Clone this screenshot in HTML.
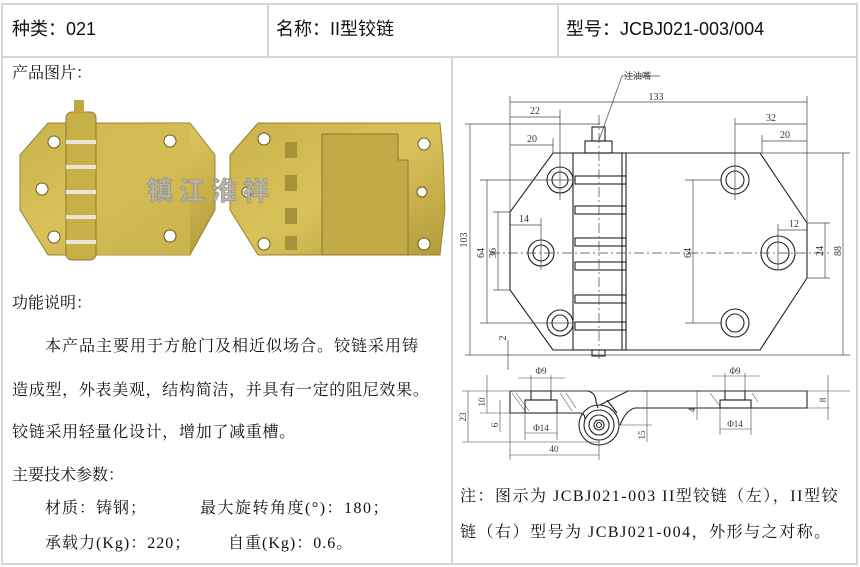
<!DOCTYPE html>
<html><head><meta charset="utf-8"><style>
body{margin:0;background:#fff;}
#c{position:relative;width:860px;height:567px;overflow:hidden;background:#fff;font-family:"Liberation Serif","Noto Serif CJK SC",serif;color:#111;}
.t{position:absolute;white-space:nowrap;line-height:1;}
.h{font-family:"Liberation Sans","Noto Sans CJK SC",sans-serif;font-size:18px;}
.p{font-size:16px;letter-spacing:0.7px;}
</style></head><body><div id="c">
<svg width="860" height="567" style="position:absolute;left:0;top:0">
<g stroke="#c8c8c8" stroke-width="1.5" fill="none">
<rect x="2" y="4" width="855" height="560"/>
<line x1="2" y1="57" x2="857" y2="57"/>
<line x1="268" y1="4" x2="268" y2="57"/>
<line x1="558" y1="4" x2="558" y2="57"/>
<line x1="452" y1="57" x2="452" y2="564"/>
</g>
<defs><linearGradient id="g" x1="0" y1="0" x2="1" y2="1"><stop offset="0" stop-color="#c9b24a"/><stop offset="0.5" stop-color="#d9c25a"/><stop offset="1" stop-color="#b39a3a"/></linearGradient></defs>
<polygon points="48,123 190,123 215,155 215,210 190,255 48,255 20,210 20,155" fill="url(#g)" stroke="#9a8430"/>
<rect x="98" y="125" width="92" height="130" fill="#d2bb52" opacity="0.7"/>
<rect x="66" y="112" width="30" height="148" rx="6" fill="#c8b048" stroke="#8e7a2c"/>
<g fill="#e8e4d8"><rect x="66" y="140" width="30" height="4"/><rect x="66" y="165" width="30" height="4"/><rect x="66" y="190" width="30" height="4"/><rect x="66" y="215" width="30" height="4"/><rect x="66" y="240" width="30" height="4"/></g>
<rect x="74" y="100" width="10" height="14" fill="#c0a640"/>
<g fill="#fff" stroke="#6b5a20"><circle cx="54" cy="142" r="6"/><circle cx="42" cy="189" r="6"/><circle cx="54" cy="237" r="6"/><circle cx="170" cy="141" r="6"/><circle cx="170" cy="236" r="6"/></g>
<polygon points="258,123 440,123 443,155 445,210 440,255 258,255 230,210 230,155" fill="url(#g)" stroke="#9a8430"/>
<path d="M322,134 H398 V160 H408 V255 H322 Z" fill="#c3aa46" stroke="#8e7a2c"/>
<g fill="#a8913a"><rect x="285" y="142" width="12" height="16"/><rect x="285" y="175" width="12" height="16"/><rect x="285" y="208" width="12" height="16"/><rect x="285" y="236" width="12" height="14"/></g>
<g fill="#fff" stroke="#6b5a20"><circle cx="264" cy="139" r="6"/><circle cx="264" cy="244" r="6"/><circle cx="424" cy="144" r="6"/><circle cx="424" cy="244" r="6"/><circle cx="247" cy="192" r="5"/><circle cx="422" cy="192" r="5"/></g>
<text x="147" y="200" font-family="Noto Sans CJK SC,sans-serif" font-weight="bold" font-size="26" fill="#b8b4a8" stroke="#888" stroke-width="0.6" letter-spacing="6">镇江淮祥</text>
<g stroke="#222" stroke-width="1.1" fill="none">
<polygon points="553,153 760,153 807,223 807,278 760,350 553,350 510,290 510,212"/>
<rect x="573" y="153" width="53" height="197"/>
<line x1="622" y1="153" x2="622" y2="350"/>
<g>
<rect x="575" y="176" width="51" height="8"/><rect x="575" y="206" width="51" height="8"/><rect x="575" y="238" width="51" height="8"/><rect x="575" y="262" width="51" height="8"/><rect x="575" y="295" width="51" height="8"/><rect x="575" y="322" width="51" height="8"/>
</g>
<rect x="585" y="141" width="27" height="12"/><rect x="592" y="127" width="13" height="14"/>
<rect x="592" y="350" width="13" height="6"/>
<circle cx="560" cy="180" r="13"/><circle cx="560" cy="180" r="8"/>
<circle cx="541" cy="253" r="13"/><circle cx="541" cy="253" r="8"/>
<circle cx="560" cy="323" r="13"/><circle cx="560" cy="323" r="8"/>
<circle cx="735" cy="180" r="14"/><circle cx="735" cy="180" r="9"/>
<circle cx="778" cy="253" r="17"/><circle cx="778" cy="253" r="11"/>
<circle cx="735" cy="323" r="14"/><circle cx="735" cy="323" r="9"/>
</g>
<g stroke="#444" stroke-width="0.7" fill="none">
<line x1="490" y1="253" x2="830" y2="253" stroke-dasharray="10,3,2,3"/>
<line x1="599" y1="115" x2="599" y2="362" stroke-dasharray="10,3,2,3"/>
<line x1="599" y1="140" x2="622" y2="76"/><line x1="622" y1="76" x2="660" y2="76"/>
<line x1="510" y1="96" x2="510" y2="212"/><line x1="807" y1="96" x2="807" y2="223"/>
<line x1="560" y1="110" x2="560" y2="200"/><line x1="553" y1="138" x2="553" y2="153"/>
<line x1="735" y1="118" x2="735" y2="200"/><line x1="762" y1="135" x2="762" y2="153"/>
<line x1="541" y1="218" x2="541" y2="270"/><line x1="778" y1="224" x2="778" y2="270"/>
<line x1="465" y1="124" x2="600" y2="124"/><line x1="465" y1="355" x2="850" y2="355"/>
<line x1="480" y1="180" x2="575" y2="180"/><line x1="480" y1="323" x2="575" y2="323"/>
<line x1="493" y1="212" x2="510" y2="212"/><line x1="493" y1="290" x2="510" y2="290"/>
<line x1="685" y1="180" x2="722" y2="180"/><line x1="685" y1="323" x2="722" y2="323"/>
<line x1="807" y1="223" x2="830" y2="223"/><line x1="807" y1="278" x2="830" y2="278"/>
<line x1="760" y1="153" x2="850" y2="153"/>
<line x1="510" y1="102" x2="807" y2="102"/><line x1="510" y1="117" x2="560" y2="117"/><line x1="510" y1="145" x2="553" y2="145"/>
<line x1="735" y1="124" x2="807" y2="124"/><line x1="762" y1="141" x2="807" y2="141"/>
<line x1="470" y1="124" x2="470" y2="355"/><line x1="487" y1="180" x2="487" y2="323"/><line x1="498" y1="212" x2="498" y2="290"/>
<line x1="510" y1="225" x2="541" y2="225"/><line x1="693" y1="180" x2="693" y2="323"/>
<line x1="778" y1="230" x2="807" y2="230"/><line x1="825" y1="223" x2="825" y2="278"/><line x1="843" y1="153" x2="843" y2="355"/>
<line x1="508" y1="340" x2="508" y2="370"/>
</g>
<g font-family="Liberation Serif,serif" font-size="10" fill="#333">
<text x="656" y="100" text-anchor="middle">133</text>
<text x="535" y="114" text-anchor="middle">22</text>
<text x="532" y="142" text-anchor="middle">20</text>
<text x="771" y="121" text-anchor="middle">32</text>
<text x="785" y="138" text-anchor="middle">20</text>
<text x="524" y="222" text-anchor="middle">14</text>
<text x="794" y="227" text-anchor="middle">12</text>
<text transform="translate(467,240) rotate(-90)" text-anchor="middle">103</text>
<text transform="translate(484,253) rotate(-90)" text-anchor="middle">64</text>
<text transform="translate(496,253) rotate(-90)" text-anchor="middle">36</text>
<text transform="translate(691,253) rotate(-90)" text-anchor="middle">64</text>
<text transform="translate(823,251) rotate(-90)" text-anchor="middle">24</text>
<text transform="translate(841,251) rotate(-90)" text-anchor="middle">88</text>
<text transform="translate(506,338) rotate(-90)" text-anchor="middle">2</text>
<text x="624" y="79" font-family="Noto Sans CJK SC,sans-serif" font-size="9">注油嘴</text>
</g>
<g stroke="#222" stroke-width="1.1" fill="none">
<path d="M510,391 H588 Q596,393 596,402 L598,408"/>
<path d="M510,391 V413 H580 Q585,413 585,420"/>
<rect x="531" y="391" width="20" height="9"/><rect x="525" y="400" width="32" height="13"/>
<circle cx="599" cy="425" r="20"/><circle cx="599" cy="425" r="15"/><circle cx="599" cy="425" r="10"/><circle cx="599" cy="425" r="5"/><circle cx="599" cy="425" r="2.5"/>
<path d="M600,405 L628,391 H807 V408 H635 Q626,410 620,425"/>
<line x1="607" y1="400" x2="617" y2="413"/>
<rect x="725" y="391" width="20" height="9"/><rect x="720" y="400" width="31" height="8"/>
</g>
<g stroke="#555" stroke-width="0.6">
<line x1="512" y1="393" x2="525" y2="411"/><line x1="516" y1="393" x2="529" y2="411"/><line x1="560" y1="393" x2="572" y2="411"/><line x1="566" y1="393" x2="576" y2="408"/>
<line x1="710" y1="393" x2="720" y2="406"/><line x1="752" y1="393" x2="758" y2="402"/>
</g>
<g stroke="#444" stroke-width="0.6" fill="none">
<line x1="462" y1="391" x2="850" y2="391"/><line x1="462" y1="442" x2="600" y2="442"/><line x1="480" y1="413" x2="510" y2="413"/>
<line x1="468" y1="391" x2="468" y2="442"/><line x1="487" y1="375" x2="487" y2="413"/><line x1="500" y1="400" x2="500" y2="432"/>
<line x1="510" y1="413" x2="510" y2="460"/><line x1="599" y1="440" x2="599" y2="460"/><line x1="510" y1="455" x2="599" y2="455"/>
<line x1="531" y1="375" x2="531" y2="391"/><line x1="551" y1="375" x2="551" y2="391"/><line x1="518" y1="378" x2="565" y2="378"/>
<line x1="525" y1="413" x2="525" y2="440"/><line x1="557" y1="413" x2="557" y2="440"/><line x1="525" y1="433" x2="557" y2="433"/>
<line x1="647" y1="391" x2="647" y2="442"/><line x1="620" y1="425" x2="652" y2="425"/>
<line x1="697" y1="391" x2="697" y2="420"/><line x1="807" y1="408" x2="830" y2="408"/><line x1="828" y1="375" x2="828" y2="420"/>
<line x1="725" y1="373" x2="725" y2="391"/><line x1="745" y1="373" x2="745" y2="391"/><line x1="712" y1="376" x2="760" y2="376"/>
<line x1="720" y1="408" x2="720" y2="435"/><line x1="751" y1="408" x2="751" y2="435"/><line x1="720" y1="429" x2="751" y2="429"/>
</g>
<g font-family="Liberation Serif,serif" font-size="9" fill="#333">
<text x="541" y="374" text-anchor="middle">Φ9</text><text x="735" y="374" text-anchor="middle">Φ9</text>
<text x="541" y="431" text-anchor="middle">Φ14</text><text x="735" y="427" text-anchor="middle">Φ14</text>
<text x="554" y="452" text-anchor="middle">40</text>
<text transform="translate(466,417) rotate(-90)" text-anchor="middle">23</text>
<text transform="translate(485,402) rotate(-90)" text-anchor="middle">10</text>
<text transform="translate(498,425) rotate(-90)" text-anchor="middle">6</text>
<text transform="translate(645,435) rotate(-90)" text-anchor="middle">15</text>
<text transform="translate(695,410) rotate(-90)" text-anchor="middle">4</text>
<text transform="translate(826,400) rotate(-90)" text-anchor="middle">8</text>
</g>
</svg>
<div class="t h" style="left:12px;top:20px">种类：021</div>
<div class="t h" style="left:276px;top:20px">名称：II型铰链</div>
<div class="t h" style="left:566px;top:20px">型号：JCBJ021-003/004</div>
<div class="t p" style="left:12px;top:66px;letter-spacing:0">产品图片：</div>
<div class="t p" style="left:12px;top:296px;letter-spacing:0">功能说明：</div>
<div class="t p" style="left:45px;top:339px;letter-spacing:1px">本产品主要用于方舱门及相近似场合。铰链采用铸</div>
<div class="t p" style="left:12px;top:383px">造成型，外表美观，结构简洁，并具有一定的阻尼效果。</div>
<div class="t p" style="left:12px;top:425px">铰链采用轻量化设计，增加了减重槽。</div>
<div class="t p" style="left:12px;top:468px;letter-spacing:0">主要技术参数：</div>
<div class="t p" style="left:45px;top:501px;letter-spacing:1px">材质：铸钢；</div>
<div class="t p" style="left:200px;top:501px;letter-spacing:1.5px">最大旋转角度(°)：180；</div>
<div class="t p" style="left:45px;top:536px;letter-spacing:1px">承载力(Kg)：220；</div>
<div class="t p" style="left:228px;top:536px;letter-spacing:1px">自重(Kg)：0.6。</div>
<div class="t p" style="left:460px;top:489px;letter-spacing:1.5px">注：图示为 JCBJ021-003 II型铰链（左），II型铰</div>
<div class="t p" style="left:460px;top:525px;letter-spacing:1.5px">链（右）型号为 JCBJ021-004，外形与之对称。</div>
</div></body></html>
